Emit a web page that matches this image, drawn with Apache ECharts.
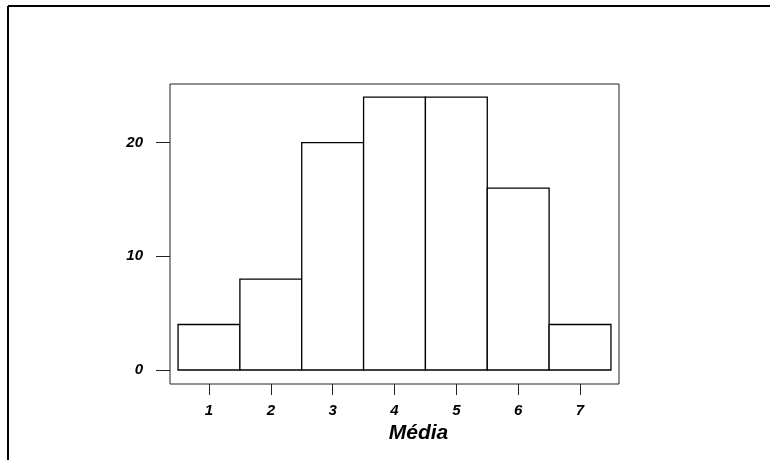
<!DOCTYPE html>
<html>
<head>
<meta charset="utf-8">
<script src="https://cdn.jsdelivr.net/npm/echarts@6/dist/echarts.min.js"></script>
<style>html,body{margin:0;padding:0;background:#fff}#c{width:771px;height:460px}</style>
</head>
<body>
<div id="c"></div>
<script>
// Histogram data
const binCenters = [1, 2, 3, 4, 5, 6, 7];
const counts = [4, 8, 20, 24, 24, 16, 4];
const yTicks = [0, 10, 20];
const xTicks = [1, 2, 3, 4, 5, 6, 7];
const xTitle = 'Média';

const chart = echarts.init(document.getElementById('c'), null, {renderer: 'canvas'});
const font = '"Liberation Sans", Arial, sans-serif';
const data = binCenters.map((c, i) => [c, counts[i]]);

chart.setOption({
  animation: false,
  backgroundColor: '#fff',
  grid: {left: 170, right: 152, top: 84, bottom: 76, show: true, borderColor: '#222', borderWidth: 1, backgroundColor: 'transparent'},
  graphic: [
    {type: 'line', shape: {x1: 8, y1: 6, x2: 770, y2: 6}, style: {stroke: '#000', lineWidth: 2}},
    {type: 'line', shape: {x1: 8, y1: 6, x2: 8, y2: 460}, style: {stroke: '#000', lineWidth: 2}}
  ],
  xAxis: {
    type: 'value', min: 0.37, max: 7.63,
    splitLine: {show: false},
    axisLine: {show: false, onZero: false},
    axisTick: {show: true, inside: false, length: 11, lineStyle: {color: '#222', width: 1}, customValues: xTicks},
    axisLabel: {margin: 19, color: '#000', fontFamily: font, fontSize: 15, fontWeight: 'bold', fontStyle: 'italic', customValues: xTicks},
    name: xTitle, nameLocation: 'middle', nameGap: 39,
    nameTextStyle: {color: '#000', fontFamily: font, fontSize: 21, fontWeight: 'bold', fontStyle: 'italic', padding: [0, 0, 0, 48]}
  },
  yAxis: {
    type: 'value', min: -1.23, max: 25.15,
    splitLine: {show: false},
    axisLine: {show: false, onZero: false},
    axisTick: {show: true, inside: false, length: 14, lineStyle: {color: '#222', width: 1}, customValues: yTicks},
    axisLabel: {margin: 27, color: '#000', fontFamily: font, fontSize: 15, fontWeight: 'bold', fontStyle: 'italic', customValues: yTicks}
  },
  series: [{
    type: 'custom',
    data: data,
    renderItem: function (params, api) {
      const x = api.value(0), y = api.value(1);
      const p0 = api.coord([x - 0.5, 0]);
      const p1 = api.coord([x + 0.5, y]);
      return {
        type: 'rect',
        shape: {x: p0[0], y: p1[1], width: p1[0] - p0[0], height: p0[1] - p1[1]},
        style: {fill: '#fff', stroke: '#000', lineWidth: 1.3}
      };
    }
  }]
});
</script>
</body>
</html>
